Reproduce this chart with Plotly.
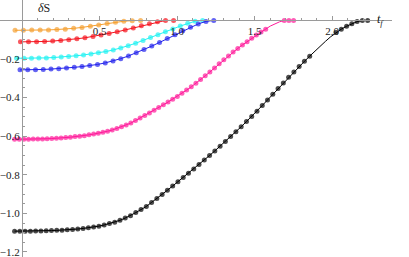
import plotly.graph_objects as go

# ---- data ----
ORANGE_T = [-0.045, 0.009, 0.063, 0.117, 0.171, 0.225, 0.279, 0.333, 0.387, 0.441,
            0.495, 0.549, 0.603, 0.657, 0.711, 0.765]
ORANGE_DS = [-0.051, -0.051, -0.050, -0.050, -0.049, -0.047, -0.045, -0.041, -0.036, -0.030,
             -0.023, -0.016, -0.009, -0.004, -0.001, 0.0]

RED_T = [-0.010, 0.042, 0.094, 0.146, 0.198, 0.250, 0.302, 0.354, 0.406, 0.458,
         0.510, 0.562, 0.614, 0.666, 0.718, 0.770, 0.822, 0.874, 0.926, 0.978]
RED_DS = [-0.111, -0.111, -0.110, -0.109, -0.107, -0.104, -0.100, -0.095, -0.090, -0.083,
          -0.076, -0.068, -0.059, -0.049, -0.039, -0.028, -0.017, -0.007, 0.0, 0.0]

CYAN_T = [-0.035, 0.013, 0.061, 0.109, 0.157, 0.205, 0.253, 0.301, 0.349, 0.397,
          0.445, 0.493, 0.541, 0.589, 0.637, 0.685, 0.733, 0.781, 0.829, 0.877,
          0.925, 0.973, 1.021, 1.069, 1.117, 1.165]
CYAN_DS = [-0.196, -0.196, -0.196, -0.195, -0.194, -0.192, -0.190, -0.187, -0.183, -0.179,
           -0.174, -0.168, -0.161, -0.153, -0.143, -0.131, -0.118, -0.104, -0.089, -0.074,
           -0.059, -0.044, -0.029, -0.015, -0.004, 0.0]

BLUE_T = [-0.013, 0.037, 0.087, 0.137, 0.187, 0.237, 0.287, 0.337, 0.387, 0.437,
          0.487, 0.537, 0.587, 0.637, 0.687, 0.737, 0.787, 0.837, 0.887, 0.937,
          0.987, 1.037, 1.087, 1.137, 1.187, 1.237]
BLUE_DS = [-0.256, -0.256, -0.255, -0.254, -0.252, -0.250, -0.247, -0.243, -0.239, -0.234,
           -0.228, -0.220, -0.210, -0.198, -0.184, -0.168, -0.151, -0.133, -0.114, -0.094,
           -0.074, -0.054, -0.035, -0.018, -0.005, 0.0]

MAGENTA_T = [-0.048, -0.018, 0.012, 0.042, 0.072, 0.102, 0.132, 0.162, 0.192, 0.222,
             0.252, 0.282, 0.312, 0.342, 0.372, 0.402, 0.432, 0.462, 0.492, 0.522,
             0.552, 0.582, 0.612, 0.642, 0.672, 0.702, 0.732, 0.762, 0.792, 0.822,
             0.852, 0.882, 0.912, 0.942, 0.972, 1.002, 1.032, 1.062, 1.092, 1.122,
             1.152, 1.182, 1.212, 1.242, 1.272, 1.302, 1.332, 1.362, 1.392, 1.422,
             1.452, 1.482, 1.512, 1.542, 1.572, 1.602, 1.632, 1.662, 1.692, 1.722, 1.752]
MAGENTA_DS = [-0.616, -0.616, -0.616, -0.616, -0.615, -0.615, -0.614, -0.613, -0.612, -0.611,
              -0.609, -0.607, -0.605, -0.602, -0.600, -0.597, -0.593, -0.589, -0.585, -0.580,
              -0.574, -0.568, -0.560, -0.551, -0.542, -0.532, -0.519, -0.506, -0.493, -0.480,
              -0.466, -0.451, -0.437, -0.423, -0.408, -0.394, -0.377, -0.361, -0.344, -0.326,
              -0.306, -0.287, -0.267, -0.246, -0.225, -0.204, -0.184, -0.164, -0.145, -0.127,
              -0.110, -0.092, -0.076, -0.060, -0.045, -0.029, -0.017, -0.007, 0.0, 0.0, 0.0]

BLACK_T = [-0.048, -0.014, 0.020, 0.054, 0.088, 0.122, 0.156, 0.190, 0.224, 0.258,
           0.292, 0.326, 0.360, 0.394, 0.428, 0.462, 0.496, 0.530, 0.564, 0.598,
           0.632, 0.666, 0.700, 0.734, 0.768, 0.802, 0.836, 0.870, 0.904, 0.938,
           0.972, 1.006, 1.040, 1.074, 1.108, 1.142, 1.176, 1.210, 1.244, 1.278,
           1.312, 1.346, 1.380, 1.414, 1.448, 1.482, 1.516, 1.550, 1.584, 1.618,
           1.652, 1.686, 1.720, 1.754, 1.788, 1.822, 1.856, 1.890, 1.924, 1.958,
           1.992, 2.026, 2.060, 2.094, 2.128, 2.162, 2.196, 2.230]
BLACK_DS = [-1.092, -1.092, -1.092, -1.092, -1.091, -1.091, -1.090, -1.089, -1.088, -1.087,
            -1.085, -1.083, -1.081, -1.078, -1.075, -1.071, -1.066, -1.060, -1.053, -1.046,
            -1.036, -1.024, -1.012, -0.996, -0.980, -0.964, -0.943, -0.923, -0.902, -0.880,
            -0.858, -0.836, -0.814, -0.792, -0.770, -0.746, -0.723, -0.700, -0.676, -0.652,
            -0.627, -0.602, -0.577, -0.551, -0.524, -0.498, -0.470, -0.441, -0.412, -0.383,
            -0.353, -0.324, -0.295, -0.267, -0.239, -0.212, -0.185, -0.158, -0.133, -0.108,
            -0.084, -0.063, -0.045, -0.030, -0.017, -0.006, 0.0, 0.0]

X_TICKS = [0.5, 1.0, 1.5, 2.0]
Y_TICKS = [-1.2, -1.0, -0.8, -0.6, -0.4, -0.2]
X_LABEL = "<i>t</i><sub><i>f</i></sub>"
Y_LABEL = "<i>δ</i>S"

# ---- styling ----
X_RANGE = [-0.142, 2.387]
Y_RANGE = [-1.226, 0.106]
FONT = "Times New Roman, Liberation Serif, serif"
AXIS_COLOR = "#9a9a9a"
TXT = "#222222"

series = [
    (ORANGE_T, ORANGE_DS, "#F5A030", None),
    (RED_T, RED_DS, "#F5141E", None),
    (CYAN_T, CYAN_DS, "#22F2F2", None),
    (BLUE_T, BLUE_DS, "#2424EC", None),
    (MAGENTA_T, MAGENTA_DS, "#FF1A9A", (1.59, 1.67)),
    (BLACK_T, BLACK_DS, "#000000", (1.87, 2.00)),
]

fig = go.Figure()
for t, ds, col, gap in series:
    sizes = [0 if (gap and gap[0] <= v <= gap[1]) else 5 for v in t]
    fig.add_trace(go.Scatter(
        x=t, y=ds, mode="lines+markers",
        line=dict(color=col, width=1),
        marker=dict(color=col, size=sizes, line=dict(width=0)),
        showlegend=False, hoverinfo="skip",
    ))

xpos = (0 - Y_RANGE[0]) / (Y_RANGE[1] - Y_RANGE[0])
ypos = (0 - X_RANGE[0]) / (X_RANGE[1] - X_RANGE[0])

fig.update_layout(
    width=409, height=257,
    margin=dict(l=0, r=17, t=0, b=0, pad=0),
    paper_bgcolor="white", plot_bgcolor="white",
    font=dict(family=FONT, size=11, color=TXT),
    xaxis=dict(
        range=X_RANGE, anchor="free", position=xpos, automargin=False,
        showgrid=False, zeroline=False,
        showline=True, linecolor=AXIS_COLOR, linewidth=1,
        tickmode="array", tickvals=X_TICKS, ticktext=[f"{v:.1f}" for v in X_TICKS],
        ticks="inside", ticklen=4, tickcolor=AXIS_COLOR, tickwidth=1,
        ticklabeloverflow="allow",
        minor=dict(tickmode="array",
                   tickvals=[round(0.1 * i, 2) for i in range(0, 24) if i % 5],
                   ticks="inside", ticklen=2, tickcolor=AXIS_COLOR),
        tickfont=dict(family=FONT, size=11, color=TXT),
    ),
    yaxis=dict(
        range=Y_RANGE, anchor="free", position=ypos, automargin=False,
        showgrid=False, zeroline=False,
        showline=True, linecolor=AXIS_COLOR, linewidth=1,
        tickmode="array", tickvals=Y_TICKS, ticktext=[f"\u2212{abs(v):.1f}" for v in Y_TICKS],
        ticks="inside", ticklen=4, tickcolor=AXIS_COLOR, tickwidth=1,
        ticklabeloverflow="allow",
        minor=dict(tickmode="array",
                   tickvals=[round(-0.05 * i, 2) for i in range(1, 25) if i % 4],
                   ticks="inside", ticklen=2, tickcolor=AXIS_COLOR),
        tickfont=dict(family=FONT, size=11, color=TXT),
    ),
    annotations=[
        dict(x=0.14, y=0.064, xref="x", yref="y", text=Y_LABEL, showarrow=False,
             font=dict(family=FONT, size=12, color=TXT), xanchor="center", yanchor="middle"),
        dict(x=2.31, y=0.0, xref="x", yref="y", text=X_LABEL, showarrow=False,
             font=dict(family=FONT, size=12, color=TXT), xanchor="center", yanchor="middle"),
    ],
)

fig.write_html("out.html", post_script="document.body.style.margin='0';",
               config={"displayModeBar": False, "staticPlot": True})
